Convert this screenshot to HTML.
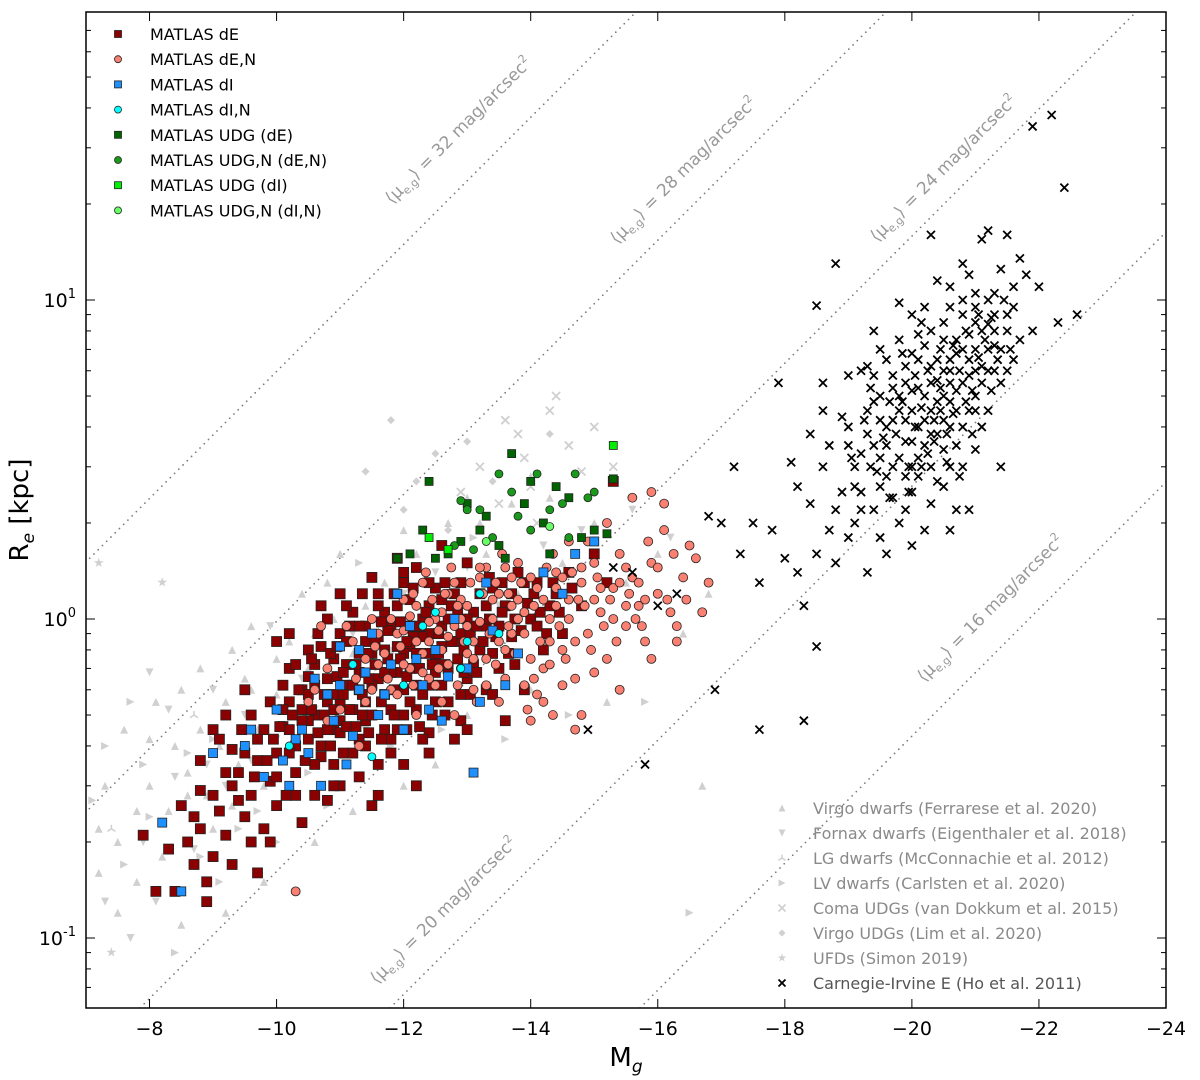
<!DOCTYPE html>
<html><head><meta charset="utf-8"><style>
html,body{margin:0;padding:0;background:#fff;width:1200px;height:1080px;overflow:hidden;}
svg{display:block;font-family:"DejaVu Sans","Liberation Sans",sans-serif;}
</style></head><body>
<svg id="chart" width="1200" height="1080" viewBox="0 0 1200 1080" xmlns="http://www.w3.org/2000/svg">
<rect x="0" y="0" width="1200" height="1080" fill="#fff"/>
<defs><clipPath id="clip"><rect x="86" y="12" width="1080" height="996"/></clipPath></defs>
<g id="mulines" clip-path="url(#clip)"></g>
<g id="gray" clip-path="url(#clip)"></g>
<g id="pts" clip-path="url(#clip)"></g>
<rect x="86" y="12" width="1080" height="996" fill="none" stroke="#000" stroke-width="1.5"/>
<g id="ticks"></g>
<text x="626" y="1066" font-size="26" text-anchor="middle">M<tspan font-size="17" dy="6" font-style="italic">g</tspan></text>
<text transform="translate(28,510) rotate(-90)" font-size="26" text-anchor="middle">R<tspan font-size="17" dy="6" font-style="italic">e</tspan><tspan dy="-6"> [kpc]</tspan></text>
<g id="legend1"></g>
<g id="legend2"></g>
</svg>
<script>
const NS="http://www.w3.org/2000/svg";
const muValues=[16,20,24,28,32];
const xTicks=[-8,-10,-12,-14,-16,-18,-20,-22,-24];
const yTickExps=[-1,0,1];
const dE=[[-7.9,0.21],[-8.1,0.14],[-8.3,0.19],[-8.4,0.14],[-8.6,0.2],[-8.7,0.17],[-8.8,0.22],[-8.9,0.15],[-8.5,0.26],[-8.8,0.29],[-9.0,0.18],[-9.1,0.25],[-9.2,0.21],[-9.3,0.3],[-9.4,0.33],[-9.5,0.24],[-9.1,0.42],[-9.3,0.39],[-9.6,0.28],[-9.7,0.36],[-9.8,0.45],[-9.9,0.31],[-9.6,0.5],[-9.8,0.22],[-10.0,0.38],[-10.1,0.46],[-10.2,0.55],[-10.0,0.26],[-10.3,0.33],[-10.4,0.6],[-10.2,0.7],[-10.5,0.42],[-10.6,0.5],[-10.7,0.37],[-10.5,0.8],[-10.8,0.65],[-10.9,0.45],[-10.6,0.28],[-11.0,0.55],[-11.1,0.72],[-11.2,0.38],[-11.0,0.9],[-11.3,0.6],[-11.4,0.48],[-11.2,1.05],[-11.5,0.78],[-11.6,0.35],[-11.4,0.85],[-11.7,0.58],[-11.8,0.95],[-11.6,1.2],[-11.9,0.68],[-12.0,0.5],[-12.1,0.82],[-12.0,1.3],[-12.2,0.62],[-12.3,1.0],[-12.4,0.44],[-12.2,1.45],[-12.5,0.75],[-12.6,1.15],[-12.4,0.9],[-12.7,0.55],[-12.8,0.85],[-12.9,1.3],[-13.0,0.65],[-13.1,1.05],[-13.2,0.8],[-13.0,1.5],[-13.3,0.95],[-13.4,1.25],[-13.5,0.7],[-13.6,1.1],[-13.7,0.88],[-13.8,1.4],[-13.9,0.6],[-14.0,1.0],[-14.1,1.3],[-14.2,0.8],[-14.4,1.2],[-14.5,0.9],[-14.6,1.4],[-14.8,1.1],[-15.0,1.6],[-15.3,2.7],[-15.2,1.3],[-11.5,0.26],[-11.0,0.3],[-12.0,0.35],[-12.8,0.42],[-10.4,0.23],[-9.9,0.2],[-9.3,0.17],[-8.9,0.13],[-9.7,0.16],[-10.8,0.27],[-11.9,1.55],[-11.0,1.2],[-10.0,0.85],[-9.2,0.5],[-10.8,1.0],[-11.5,1.35],[-12.6,1.7],[-10.3,0.4],[-10.9,0.58],[-11.3,0.42],[-11.8,0.52],[-12.3,0.58],[-12.7,0.7],[-10.5,0.48],[-11.7,0.8],[-12.1,0.95],[-10.1,0.62],[-11.2,0.52],[-11.0,0.44],[-10.7,0.4],[-12.5,1.25],[-13.2,1.2],[-11.9,1.1],[-11.3,0.68],[-10.9,0.75],[-10.6,0.62],[-11.1,0.62],[-11.6,0.65],[-12.1,0.7],[-11.4,0.55],[-10.4,0.52],[-10.9,0.35],[-11.7,0.45],[-12.6,0.95],[-13.4,0.78],[-10.2,0.45],[-11.8,0.42],[-12.9,0.58],
[-10.3,0.72],[-10.5,0.66],[-10.7,0.82],[-10.8,0.55],[-11.0,0.48],[-11.1,0.85],[-11.3,0.78],[-11.4,0.95],[-11.5,0.62],[-11.6,0.88],[-11.7,1.05],[-11.8,0.68],[-11.9,0.82],[-12.0,0.6],[-12.1,1.15],[-12.2,0.78],[-12.3,0.88],[-12.4,1.1],[-12.5,0.68],[-12.6,0.82],[-12.7,1.0],[-12.8,1.2],[-12.9,0.9],[-13.0,1.0],[-13.1,0.72],[-13.3,1.1],[-13.5,0.95],[-13.7,1.2],[-13.9,1.3],[-14.1,0.95],[-14.3,1.1],[-10.1,0.52],[-10.3,0.28],[-10.5,0.58],[-10.6,0.35],[-10.8,0.45],[-10.9,0.52],[-11.1,0.46],[-11.2,0.62],[-11.4,0.4],[-11.5,0.5],[-11.7,0.68],[-11.8,0.38],[-12.0,0.78],[-12.2,0.52],[-12.3,0.42],[-12.5,0.55],[-12.9,0.48],[-13.3,0.6],[-9.4,0.27],[-9.5,0.38],[-9.7,0.42],[-9.9,0.55],[-10.0,0.32],[-10.2,0.38],[-10.4,0.48],[-9.0,0.28],[-8.7,0.24],[-9.2,0.33],[-9.6,0.2],[-10.6,0.72],[-11.9,0.45],[-12.6,0.62],[-12.1,0.55],[-11.3,0.95],[-11.6,1.1],[-12.4,1.3],[-12.0,1.4],[-11.1,1.1],[-10.7,1.1],[-10.2,0.9],[-9.5,0.6],[-9.0,0.45],[-8.8,0.36],[-10.9,0.3],[-11.3,0.32],[-12.4,0.38],[-13.6,0.48],[-13.0,0.45],[-12.2,0.3],[-11.6,0.28],[-13.4,0.58],
[-10.35,0.6],[-10.55,0.52],[-10.75,0.58],[-10.85,0.78],[-10.95,0.66],[-11.05,0.58],[-11.15,0.52],[-11.25,0.72],[-11.35,0.5],[-11.45,0.65],[-11.55,0.72],[-11.65,0.55],[-11.75,0.92],[-11.85,0.6],[-11.95,0.75],[-12.05,0.66],[-12.15,0.88],[-12.25,0.7],[-12.35,0.78],[-12.45,0.62],[-12.55,0.9],[-12.65,0.72],[-12.75,0.85],[-12.85,0.75],[-12.95,0.8],[-13.05,0.9],[-13.15,0.68],[-13.25,0.85],[-13.35,1.0],[-13.45,0.88],[-13.55,1.05],[-13.65,0.78],[-13.75,1.0],[-13.85,0.92],[-13.95,1.12],[-14.05,1.2],[-14.15,1.05],[-14.35,1.3],[-14.45,1.05],[-10.45,0.36],[-10.65,0.44],[-10.85,0.4],[-11.05,0.38],[-11.25,0.46],[-11.45,0.44],[-11.65,0.42],[-11.85,0.5],[-12.05,0.45],[-12.25,0.46],[-12.45,0.5],[-12.65,0.5],[-9.85,0.36],[-10.05,0.46],[-10.25,0.5],[-9.65,0.32],[-9.45,0.45],[-10.15,0.28],[-11.55,0.85],[-11.95,0.98],[-12.35,1.05],[-12.75,1.1],[-13.15,0.95],[-11.15,0.95],[-10.65,0.9],[-11.35,1.2],[-12.15,1.25],[-12.85,1.05],[-13.55,1.3],[-10.95,0.82],[-11.75,0.75],[-12.55,0.78],[-11.45,0.78],[-12.05,0.85],[-12.95,0.68],[-13.75,0.72],[-14.25,0.9],[-10.55,0.75],[-11.85,1.2],[-12.65,1.3],[-13.35,1.35],[-14.65,1.25],[-11.05,0.68],[-11.65,0.98],[-12.45,0.72],[-13.05,0.58],[-12.25,0.95],[-11.35,0.58],[-10.75,0.5],[-9.95,0.42]];
const dEN=[[-10.3,0.14],[-10.5,0.55],[-10.8,0.7],[-11.0,0.62],[-11.2,0.85],[-11.4,0.55],[-11.5,1.0],[-11.6,0.72],[-11.8,0.6],[-11.9,0.9],[-12.0,1.15],[-12.1,0.7],[-12.2,0.85],[-12.3,1.3],[-12.4,0.65],[-12.5,1.0],[-12.6,0.8],[-12.7,1.2],[-12.8,0.95],[-12.9,0.7],[-13.0,1.1],[-13.1,0.85],[-13.2,1.35],[-13.3,0.75],[-13.4,1.0],[-13.5,1.2],[-13.6,0.65],[-13.7,0.9],[-13.8,1.5],[-13.9,1.05],[-14.0,0.75],[-14.1,1.25],[-14.2,0.55],[-14.3,1.0],[-14.4,1.4],[-14.5,0.8],[-14.6,1.15],[-14.7,0.65],[-14.8,1.3],[-14.9,0.9],[-15.0,1.5],[-15.1,1.05],[-15.2,0.75],[-15.3,1.25],[-15.4,1.6],[-15.5,0.95],[-15.6,1.35],[-15.7,1.1],[-15.8,0.85],[-15.9,1.5],[-16.0,1.2],[-16.1,1.9],[-16.2,1.05],[-16.4,1.35],[-16.6,1.55],[-16.8,1.3],[-15.2,2.0],[-15.6,2.4],[-15.9,2.5],[-16.1,2.3],[-14.6,1.75],[-13.7,1.35],[-12.6,0.55],[-13.5,0.55],[-14.0,0.48],[-14.5,0.62],[-14.2,0.7],[-13.1,0.6],[-12.2,0.5],[-11.3,0.4],[-10.8,0.48],[-11.7,0.78],[-12.4,0.98],[-12.9,1.15],[-13.3,1.45],[-14.9,1.75],[-15.5,1.45],[-16.3,0.85],[-14.7,0.45],[-13.9,0.62],[-12.0,0.72],[-11.1,0.95],[-10.7,0.95],[-12.8,0.5],[-13.6,0.8],[-14.3,0.85],[-15.1,1.25],[-15.8,1.15],[-12.5,0.62],[-11.9,0.58],[-12.3,0.78],[-12.7,0.88],[-13.2,0.98],[-13.8,1.15],[-14.4,1.1],[-11.6,0.9],[-12.1,1.02],[-13.0,0.78],
[-12.2,1.1],[-12.6,1.05],[-13.0,0.95],[-13.4,1.15],[-13.8,1.0],[-14.2,1.15],[-14.6,1.0],[-15.0,1.15],[-15.4,1.3],[-12.8,1.3],[-13.2,1.45],[-13.6,1.45],[-14.0,1.35],[-14.4,1.25],[-14.8,1.45],[-12.4,0.85],[-12.7,0.72],[-13.1,0.75],[-13.5,0.85],[-13.9,0.9],[-14.3,0.72],[-14.7,0.85],[-15.3,1.0],[-15.7,1.3],[-16.5,1.7],[-16.7,1.05],[-16.3,0.95],[-15.9,0.75],[-11.4,0.75],[-11.8,1.0],[-12.0,0.92],[-11.5,0.6],[-11.0,0.52],[-10.6,0.6],[-13.3,0.62],[-14.1,0.58],[-14.8,0.5],[-15.4,0.6],[-15.0,0.68],[-13.7,1.1],[-12.9,1.0],[-12.3,0.68],[-14.5,1.35],[-15.5,1.1],[-16.0,1.45],
[-12.15,1.2],[-12.45,1.15],[-12.85,1.1],[-13.25,1.2],[-13.65,1.2],[-14.05,1.1],[-14.45,0.95],[-14.85,1.1],[-15.25,1.15],[-15.65,1.0],[-13.05,1.3],[-13.45,1.3],[-13.85,1.3],[-14.25,1.45],[-14.65,1.4],[-15.05,1.35],[-12.55,0.92],[-12.95,0.85],[-13.35,0.9],[-13.75,0.78],[-14.15,0.85],[-14.55,0.75],[-14.95,0.8],[-15.35,0.85],[-15.75,0.95],[-16.15,1.15],[-11.75,0.65],[-12.15,0.62],[-12.55,0.7],[-13.15,0.55],[-13.95,0.52],[-14.35,0.5],[-12.35,1.4],[-12.75,1.45],[-13.55,1.6],[-14.35,1.6],[-11.95,0.82],[-11.25,0.65],[-11.55,0.82],[-14.75,1.15],[-15.15,0.95],[-15.55,1.2],[-16.45,1.15],[-16.25,1.6],[-15.85,1.75],[-14.05,0.65],[-13.45,0.72],[-12.85,0.62],[-13.65,0.95],[-12.65,1.2]];
const dI=[[-8.2,0.23],[-8.5,0.14],[-9.0,0.38],[-9.5,0.4],[-9.8,0.32],[-10.0,0.52],[-10.2,0.3],[-10.4,0.45],[-10.6,0.65],[-10.7,0.3],[-10.9,0.48],[-11.0,0.82],[-11.2,0.43],[-11.3,0.6],[-11.5,0.9],[-11.6,0.5],[-11.8,0.72],[-12.0,0.45],[-12.1,0.95],[-12.3,0.62],[-12.5,0.8],[-12.6,0.48],[-12.8,1.0],[-13.0,0.7],[-13.2,0.55],[-13.4,0.92],[-13.6,0.62],[-13.8,0.78],[-14.2,1.4],[-14.5,1.2],[-14.7,1.6],[-15.0,1.75],[-13.1,0.33],[-10.1,0.36],[-10.5,0.38],[-11.1,0.35],[-9.6,0.45],[-11.9,1.2],[-13.3,1.3],[-12.2,0.75],[-10.8,0.58],[-11.4,0.68],[-11.0,0.62],[-11.7,0.58],[-12.4,0.52],[-12.7,0.66],[-11.3,0.8],[-10.3,0.42]];
const dIN=[[-10.2,0.4],[-11.5,0.37],[-12.0,0.62],[-12.5,1.05],[-12.9,0.7],[-13.2,1.2],[-13.5,0.9],[-13.0,0.85],[-12.3,0.95],[-11.2,0.72]];
const udgE=[[-12.3,1.9],[-12.5,1.55],[-12.7,1.6],[-12.4,2.7],[-12.9,1.75],[-13.0,2.3],[-13.2,1.9],[-13.3,2.1],[-13.5,1.7],[-13.7,3.3],[-13.9,2.3],[-14.0,2.7],[-14.2,2.0],[-14.4,2.6],[-14.6,2.4],[-14.8,1.8],[-15.0,1.9],[-15.3,2.75],[-14.3,1.6],[-13.6,1.55],[-11.9,1.55],[-12.1,1.6],[-15.2,1.85]];
const udgEN=[[-12.9,2.35],[-13.0,2.2],[-13.2,2.2],[-13.5,2.85],[-13.7,2.5],[-13.8,2.1],[-14.0,1.9],[-14.1,2.85],[-14.3,2.2],[-14.5,2.3],[-14.7,2.85],[-14.9,2.4],[-13.4,1.8],[-12.8,1.7],[-13.1,1.65],[-14.6,1.8],[-15.0,2.5]];
const udgI=[[-12.4,1.8],[-15.3,3.5],[-12.7,1.65]];
const udgIN=[[-14.3,1.95],[-13.3,1.75]];
const cie=[[-14.9,0.45],[-15.3,1.45],[-15.6,1.4],[-15.8,0.35],[-16.0,1.1],[-16.3,1.2],[-16.8,2.1],[-16.9,0.6],[-17.0,2.0],[-17.2,3.0],[-17.3,1.6],[-17.5,2.0],[-17.6,1.3],[-17.6,0.45],[-17.8,1.9],[-17.9,5.5],[-18.0,1.55],[-18.1,3.1],[-18.3,1.1],[-18.3,0.48],[-18.4,2.3],[-18.5,0.82],[-18.5,9.6],[-18.6,5.5],[-18.7,3.5],[-18.8,1.5],[-18.8,13.0],[-18.9,2.5],[-19.0,4.0],[-19.0,1.8],[-19.1,3.0],[-19.2,6.0],[-19.2,2.2],[-19.3,4.5],[-19.3,1.4],[-19.4,3.5],[-19.4,8.0],[-19.5,2.6],[-19.5,5.0],[-19.6,1.6],[-19.6,6.5],[-19.7,3.0],[-19.7,4.2],[-19.8,2.0],[-19.8,7.5],[-19.9,3.6],[-19.9,5.5],[-20.0,2.5],[-20.0,4.5],[-20.0,9.0],[-20.1,3.2],[-20.1,6.5],[-20.2,1.9],[-20.2,5.0],[-20.3,3.8],[-20.3,8.0],[-20.4,2.7],[-20.4,11.5],[-20.5,4.2],[-20.5,6.0],[-20.6,3.0],[-20.6,9.5],[-20.7,5.2],[-20.7,2.2],[-20.8,7.0],[-20.8,4.0],[-20.9,12.0],[-20.9,5.8],[-21.0,3.4],[-21.0,8.5],[-21.1,6.2],[-21.1,15.5],[-21.2,4.5],[-21.2,10.0],[-21.3,7.2],[-21.4,5.5],[-21.4,12.5],[-21.5,8.0],[-21.6,9.5],[-21.6,6.5],[-21.7,13.5],[-21.8,12.0],[-21.9,8.0],[-22.0,11.0],[-21.9,35],[-22.2,38],[-22.4,22.5],[-22.6,9.0],[-22.3,8.5],[-21.2,16.5],[-21.5,16.0],[-20.8,13.0],[-20.3,16.0],[-19.8,9.8],[-20.0,6.8],[-19.5,7.0],[-20.9,2.2],[-20.6,4.8],[-20.2,7.2],[-19.8,5.0],[-19.4,4.8],[-19.0,5.8],[-18.9,4.3],[-19.2,3.3],[-19.6,4.0],[-20.4,5.6],[-20.1,4.0],[-20.7,6.8],[-21.0,5.0],[-21.3,9.0],[-20.5,7.5],[-19.9,4.2],[-20.3,2.3],[-19.7,2.4],[-19.1,2.0],[-18.7,1.9],[-18.2,1.4],[-18.6,3.0],[-19.3,6.2],[-20.6,11.0],[-21.3,6.0],[-20.8,9.0],[-21.7,7.5],[-19.5,3.2],[-20.2,3.5],[-20.7,3.5],[-21.1,4.0],[-20.0,3.0],[-19.4,2.2],[-20.4,4.8],[-21.4,3.0],[-20.6,1.9],[-20.1,5.3],[-20.5,3.4],[-19.7,5.8],[-20.9,7.8],[-21.2,8.4],[-20.3,6.2],[-19.9,2.8],[-20.6,6.0],[-21.0,10.5],
[-19.1,2.6],[-19.3,3.8],[-19.5,4.2],[-19.6,3.5],[-19.7,5.3],[-19.8,3.2],[-19.9,6.2],[-20.0,5.2],[-20.1,2.8],[-20.1,7.8],[-20.2,4.2],[-20.3,5.5],[-20.3,3.0],[-20.4,6.5],[-20.4,3.8],[-20.5,5.0],[-20.5,8.5],[-20.6,6.5],[-20.6,4.0],[-20.7,7.5],[-20.7,4.5],[-20.8,5.5],[-20.8,10.0],[-20.9,6.5],[-20.9,4.5],[-21.0,7.0],[-21.0,6.0],[-21.1,8.0],[-21.1,5.5],[-21.2,7.0],[-21.2,6.0],[-21.3,10.5],[-21.3,8.0],[-21.4,7.0],[-21.5,9.0],[-21.5,6.0],[-21.6,11.0],[-21.0,9.5],[-20.5,2.6],[-20.0,3.6],[-19.6,2.8],[-19.2,2.5],[-19.0,3.5],[-19.4,5.8],[-20.2,9.5],[-19.8,4.5],[-20.6,5.5],[-20.3,4.5],[-20.8,3.0],[-21.0,4.5],[-19.5,1.8],[-19.9,2.2],[-20.0,1.7],[-18.4,3.8],[-18.2,2.6],[-18.6,4.5],[-18.8,2.2],[-18.5,1.6],
[-19.35,3.0],[-19.55,3.7],[-19.75,3.8],[-19.85,4.8],[-19.95,3.0],[-20.05,4.0],[-20.15,4.6],[-20.25,3.3],[-20.35,4.2],[-20.45,4.5],[-20.55,3.8],[-20.65,4.4],[-20.75,6.0],[-20.85,4.8],[-20.95,5.2],[-21.05,6.6],[-21.15,7.5],[-21.25,8.8],[-21.35,6.5],[-20.45,5.3],[-20.25,6.0],[-20.05,5.8],[-19.85,6.8],[-20.65,7.2],[-20.85,8.0],[-21.05,9.0],[-21.45,10.0],[-20.35,3.6],[-19.65,2.4],[-19.45,2.9],[-20.15,3.0],[-20.55,3.1],[-19.25,4.2],[-19.05,3.2],[-20.95,3.8],[-21.25,5.2],[-20.75,2.8],[-19.95,2.5],[-20.45,7.0],[-21.55,7.0],[-20.15,8.5],[-19.65,4.8],[-19.35,5.3]];
const grayVirgo=[[-7.2,0.16],[-7.5,0.12],[-7.8,0.25],[-8.0,0.3],[-8.2,0.18],[-8.4,0.4],[-8.6,0.28],[-8.8,0.45],[-9.0,0.22],[-9.2,0.55],[-9.4,0.35],[-9.6,0.6],[-9.8,0.3],[-10.0,0.75],[-10.3,0.5],[-10.6,0.9],[-11.0,0.65],[-11.4,1.1],[-11.8,0.8],[-12.3,1.3],[-12.8,1.0],[-13.3,1.6],[-13.8,1.2],[-14.5,1.5],[-15.0,2.0],[-16.0,1.6],[-16.8,1.2],[-7.3,0.3],[-7.6,0.45],[-8.5,0.6],[-9.3,0.8],[-10.8,1.3],[-12.0,1.9],[-13.0,2.4],[-14.0,2.8],[-7.5,0.2],[-7.8,0.15],[-8.0,0.42],[-8.3,0.25],[-8.6,0.33],[-8.9,0.28],[-9.1,0.4],[-9.3,0.26],[-9.5,0.65],[-9.7,0.45],[-10.0,0.58],[-10.2,0.85],[-10.5,0.7],[-10.9,1.0],[-11.2,0.78],[-11.7,1.3],[-12.2,1.6],[-12.7,2.0],[-13.2,2.0],[-13.7,2.3],[-14.3,2.4],[-15.5,1.3],[-16.4,0.9],[-14.0,0.6],[-13.0,0.5],[-15.2,0.55],[-12.5,0.35],[-7.2,0.22],[-8.1,0.55],[-8.8,0.7],[-9.6,0.95],[-10.4,1.2],[-11.0,1.6],[-12.0,0.3],[-11.2,0.25],[-10.6,0.2],[-9.8,0.15],[-9.2,0.12],[-8.5,0.11],[-16.7,0.3]];
const grayFornax=[[-7.7,0.1],[-8.1,0.13],[-8.9,0.35],[-9.5,0.5],[-10.4,0.65],[-11.2,0.9],[-12.5,1.4],[-13.5,1.1],[-14.8,1.9],[-16.2,1.8],[-8.3,0.52],[-9.9,0.95],[-7.3,0.13],[-7.9,0.2],[-8.4,0.32],[-8.7,0.19],[-9.2,0.3],[-9.6,0.36],[-10.0,0.42],[-10.6,0.52],[-11.0,0.8],[-11.6,0.95],[-12.0,1.2],[-13.0,1.45],[-14.2,1.7],[-15.6,2.2],[-10.2,0.28],[-9.0,0.6],[-8.0,0.68],[-11.4,0.45]];
const grayLG=[[-7.4,0.22],[-8.7,0.5],[-10.1,0.45],[-11.6,0.7]];
const grayLV=[[-7.1,0.27],[-7.9,0.35],[-8.6,0.38],[-9.1,0.15],[-9.7,0.25],[-10.5,0.33],[-11.3,1.5],[-12.1,1.0],[-13.1,1.8],[-16.5,0.12],[-7.6,0.17],[-8.4,0.09],[-7.3,0.4],[-8.0,0.24],[-8.8,0.18],[-9.4,0.22],[-10.0,0.2],[-10.8,0.26],[-11.8,0.4],[-12.6,0.45],[-13.6,0.42],[-14.6,0.5],[-15.8,0.55],[-7.7,0.55],[-9.0,0.42]];
const grayComa=[[-13.2,3.0],[-13.5,2.3],[-13.8,3.8],[-14.0,2.6],[-14.3,4.5],[-14.6,3.5],[-14.8,2.9],[-15.0,4.0],[-14.4,5.0],[-13.9,3.2],[-15.3,3.0],[-14.1,2.0],[-13.6,4.2],[-12.9,2.5]];
const grayVUDG=[[-11.4,2.9],[-12.0,2.2],[-12.5,3.3],[-13.0,3.6],[-12.2,2.7],[-11.8,4.2],[-13.4,2.7],[-14.3,3.8],[-12.7,1.9]];
const grayUFD=[[-8.2,1.3],[-7.2,1.5],[-7.4,0.09]];

const X0=86,X1=1166,Y0=12,Y1=1008;
function xs(m){return X0+(-7-m)*(X1-X0)/17;}
function ys(r){return 300-(Math.log10(r)-1)*319;}
function el(tag,attrs,parent){const e=document.createElementNS(NS,tag);for(const k in attrs)e.setAttribute(k,attrs[k]);parent.appendChild(e);return e;}

const gl=document.getElementById('mulines');
function muXBottom(mu){return 390-(mu-20)*62.5;}
const labelPos={16:[990,608],20:[443,910],24:[943,168],28:[683,170],32:[458,130]};
muValues.forEach(mu=>{
  const xb=muXBottom(mu);
  const ln=el('line',{x1:xb,y1:Y1,x2:xb+(Y1-Y0),y2:Y0,stroke:'#7a7a7a','stroke-width':1.8,'stroke-dasharray':'0 6','stroke-linecap':'round'},gl);
  
  
  const [lx,ly]=labelPos[mu];
  const t=el('text',{transform:`translate(${lx},${ly}) rotate(-45)`,'font-size':17,fill:'#999','text-anchor':'middle',dy:6},gl);
  t.innerHTML='⟨μ<tspan font-size="11" dy="4">e,g</tspan><tspan dy="-4">⟩ = '+mu+' mag/arcsec</tspan><tspan font-size="11" dy="-7">2</tspan>';
  
  
});

function marker(g,shape,x,y,fill,stroke,s){
  let e;
  if(shape==='sq')e=el('rect',{x:x-s/2,y:y-s/2,width:s,height:s,fill:fill,stroke:stroke,'stroke-width':0.8},g);
  else if(shape==='ci')e=el('circle',{cx:x,cy:y,r:s/2,fill:fill,stroke:stroke,'stroke-width':0.8},g);
  else if(shape==='x'){e=el('path',{d:`M${x-s/2},${y-s/2}L${x+s/2},${y+s/2}M${x-s/2},${y+s/2}L${x+s/2},${y-s/2}`,stroke:stroke,'stroke-width':1.8,fill:'none'},g);}
  else if(shape==='tu')e=el('polygon',{points:`${x},${y-s/2} ${x-s/2},${y+s/2} ${x+s/2},${y+s/2}`,fill:fill},g);
  else if(shape==='td')e=el('polygon',{points:`${x},${y+s/2} ${x-s/2},${y-s/2} ${x+s/2},${y-s/2}`,fill:fill},g);
  else if(shape==='tr')e=el('polygon',{points:`${x+s/2},${y} ${x-s/2},${y-s/2} ${x-s/2},${y+s/2}`,fill:fill},g);
  else if(shape==='di')e=el('polygon',{points:`${x},${y-s/2} ${x+s/2},${y} ${x},${y+s/2} ${x-s/2},${y}`,fill:fill},g);
  else if(shape==='st'){e=el('text',{x:x,y:y+s/2,'font-size':s*1.6,'text-anchor':'middle',fill:fill},g);e.textContent='★';}
  else if(shape==='tri'){e=el('path',{d:`M${x},${y}L${x},${y-s/2}M${x},${y}L${x-s/2},${y+s/3}M${x},${y}L${x+s/2},${y+s/3}`,stroke:fill,'stroke-width':1.5},g);}
  return e;
}
const gg=document.getElementById('gray');
const grayCol='#d0d0d0';
const grayGroups=[[grayVirgo,'tu'],[grayFornax,'td'],[grayLG,'tri'],[grayLV,'tr'],[grayComa,'x'],[grayVUDG,'di'],[grayUFD,'st']];
grayGroups.forEach(([arr,sh])=>arr.forEach(p=>{
  const m=marker(gg,sh,xs(p[0]),ys(p[1]),grayCol,grayCol,8);
  
  
}));
const gp=document.getElementById('pts');
const series=[[dE,'sq','#8b0000',10],[dEN,'ci','#fa8072',9],[dI,'sq','#1e90ff',9],[dIN,'ci','#00ffff',8],[udgE,'sq','#006400',8],[udgEN,'ci','#1a9a1a',8],[udgI,'sq','#00ee00',8],[udgIN,'ci','#66ff66',8]];
series.forEach(([arr,sh,col,s])=>arr.forEach(p=>{
  const m=marker(gp,sh,xs(p[0]),ys(p[1]),col,'#222',s);
  
  
}));
cie.forEach(p=>{
  const m=marker(gp,'x',xs(p[0]),ys(p[1]),'none','#000',8);
  
  
});

const gt=document.getElementById('ticks');
xTicks.forEach(v=>{
  const x=xs(v);
  el('line',{x1:x,y1:Y1,x2:x,y2:Y1-9,stroke:'#000','stroke-width':1},gt);
  el('line',{x1:x,y1:Y0,x2:x,y2:Y0+9,stroke:'#000','stroke-width':1},gt);
  const t=el('text',{x:x,y:Y1+27,'font-size':19,'text-anchor':'middle'},gt);
  t.textContent='−'+Math.abs(v);
  
  
});
yTickExps.forEach(e=>{
  const y=ys(Math.pow(10,e));
  el('line',{x1:X0,y1:y,x2:X0+9,y2:y,stroke:'#000','stroke-width':1},gt);
  el('line',{x1:X1,y1:y,x2:X1-9,y2:y,stroke:'#000','stroke-width':1},gt);
  const t=el('text',{x:X0-10,y:y+7,'font-size':19,'text-anchor':'end'},gt);
  t.innerHTML='10<tspan font-size="13" dy="-9">'+(e<0?'-'+(-e):e)+'</tspan>';
  
  
  for(let k=2;k<=9;k++){
    const yy=ys(k*Math.pow(10,e));
    if(yy<Y0||yy>Y1)continue;
    el('line',{x1:X0,y1:yy,x2:X0+5,y2:yy,stroke:'#000','stroke-width':1},gt);
    el('line',{x1:X1,y1:yy,x2:X1-5,y2:yy,stroke:'#000','stroke-width':1},gt);
  }
});
[0.06,0.07,0.08,0.09].forEach(v=>{const yy=ys(v);if(yy<Y1){el('line',{x1:X0,y1:yy,x2:X0+5,y2:yy,stroke:'#000'},gt);el('line',{x1:X1,y1:yy,x2:X1-5,y2:yy,stroke:'#000'},gt);}});

const l1=document.getElementById('legend1');
const leg1Labels=['MATLAS dE','MATLAS dE,N','MATLAS dI','MATLAS dI,N','MATLAS UDG (dE)','MATLAS UDG,N (dE,N)','MATLAS UDG (dI)','MATLAS UDG,N (dI,N)'];
leg1Labels.forEach((lab,i)=>{
  const y=34+i*25.2;
  const s=series[i];
  marker(l1,s[1],118,y,s[2],'#222',7);
  const t=el('text',{x:150,y:y+6,'font-size':16},l1);
  t.textContent=lab;
  
  
});
const l2=document.getElementById('legend2');
const leg2Labels=['Virgo dwarfs (Ferrarese et al. 2020)','Fornax dwarfs (Eigenthaler et al. 2018)','LG dwarfs (McConnachie et al. 2012)','LV dwarfs (Carlsten et al. 2020)','Coma UDGs (van Dokkum et al. 2015)','Virgo UDGs (Lim et al. 2020)','UFDs (Simon 2019)','Carnegie-Irvine E (Ho et al. 2011)'];
const leg2Shapes=['tu','td','tri','tr','x','di','st','x'];
leg2Labels.forEach((lab,i)=>{
  const y=808+i*25;
  const last=i===7;
  marker(l2,leg2Shapes[i],782,y,last?'none':grayCol,last?'#000':grayCol,7);
  const t=el('text',{x:813,y:y+6,'font-size':16,fill:last?'#555':'#8a8a8a'},l2);
  t.textContent=lab;
  
  
});
</script>
</body></html>
